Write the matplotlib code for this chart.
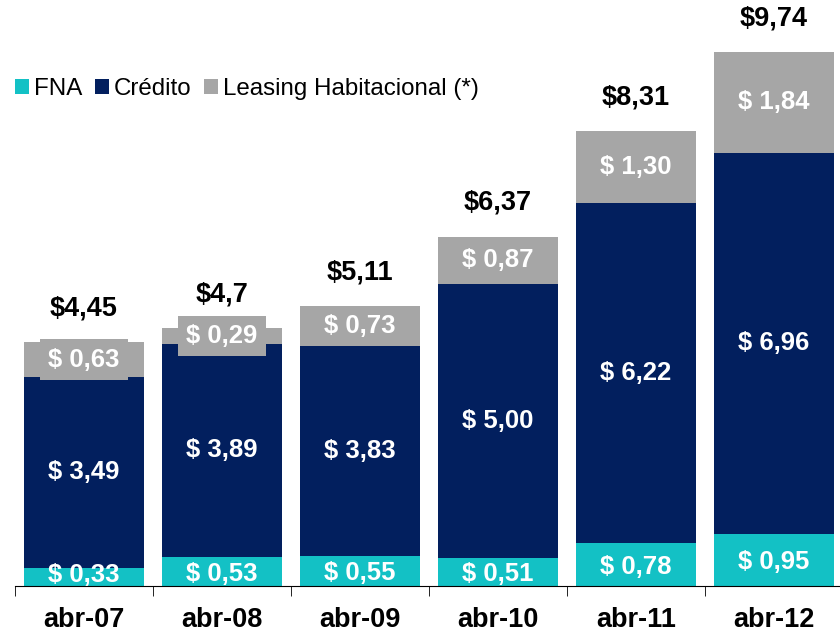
import matplotlib.pyplot as plt
import numpy as np

plt.rcParams['font.family'] = ['Liberation Sans', 'DejaVu Sans']

periodos = ['abr-07', 'abr-08', 'abr-09', 'abr-10', 'abr-11', 'abr-12']
fna = [0.33, 0.53, 0.55, 0.51, 0.78, 0.95]
credito = [3.49, 3.89, 3.83, 5.00, 6.22, 6.96]
leasing = [0.63, 0.29, 0.73, 0.87, 1.30, 1.84]
totales = ['$4,45', '$4,7', '$5,11', '$6,37', '$8,31', '$9,74']

c_fna = '#13C1C5'
c_cred = '#021F5E'
c_leas = '#A6A6A6'

fig = plt.figure(figsize=(8.4, 6.32), dpi=100)
ax = fig.add_axes([15/840, 46/632, 828/840, 575/632])

x = np.arange(len(periodos))
w = 0.87
fna = np.array(fna); credito = np.array(credito); leasing = np.array(leasing)
ax.bar(x, fna, w, color=c_fna, label='FNA')
ax.bar(x, credito, w, bottom=fna, color=c_cred, label='Crédito')
ax.bar(x, leasing, w, bottom=fna+credito, color=c_leas, label='Leasing Habitacional (*)')

def fmt(v):
    return '$ ' + f'{v:.2f}'.replace('.', ',')

for i in x:
    # FNA label: sits low, may touch the axis line
    ax.text(i, max(fna[i]/2 - 0.04, 0.2), fmt(fna[i]), ha='center', va='center',
            color='white', fontsize=18.5, fontweight='bold', zorder=1)
    ax.text(i, fna[i] + credito[i]/2, fmt(credito[i]), ha='center', va='center',
            color='white', fontsize=18.5, fontweight='bold')
    top = fna[i] + credito[i]
    ax.text(i, top + leasing[i]/2, fmt(leasing[i]), ha='center', va='center',
            color='white', fontsize=18.5, fontweight='bold',
            bbox=dict(facecolor=c_leas, edgecolor='none', pad=6))
    ax.text(i, top + leasing[i] + 0.62, totales[i], ha='center', va='center',
            color='black', fontsize=19.5, fontweight='bold')

ax.set_xlim(-0.5, 5.5)
ax.set_ylim(0, 10.5)
for s in ['top', 'right', 'left']:
    ax.spines[s].set_visible(False)
ax.spines['bottom'].set_color('black')
ax.spines['bottom'].set_zorder(5)
ax.set_yticks([])
ax.set_xticks(x)
ax.set_xticklabels(periodos, fontsize=19.5, fontweight='bold')
ax.tick_params(axis='x', which='major', length=0, pad=15)
ax.set_xticks(np.arange(-0.5, 6, 1), minor=True)
ax.tick_params(axis='x', which='minor', length=7, direction='out', color='black')

ax.legend(loc='upper left', bbox_to_anchor=(-0.012, 0.9), ncol=3, frameon=False,
          fontsize=17.4, handlelength=0.6, handleheight=0.6, handletextpad=0.2,
          columnspacing=0.5, borderaxespad=0)

fig.savefig('out.png', dpi=100)
